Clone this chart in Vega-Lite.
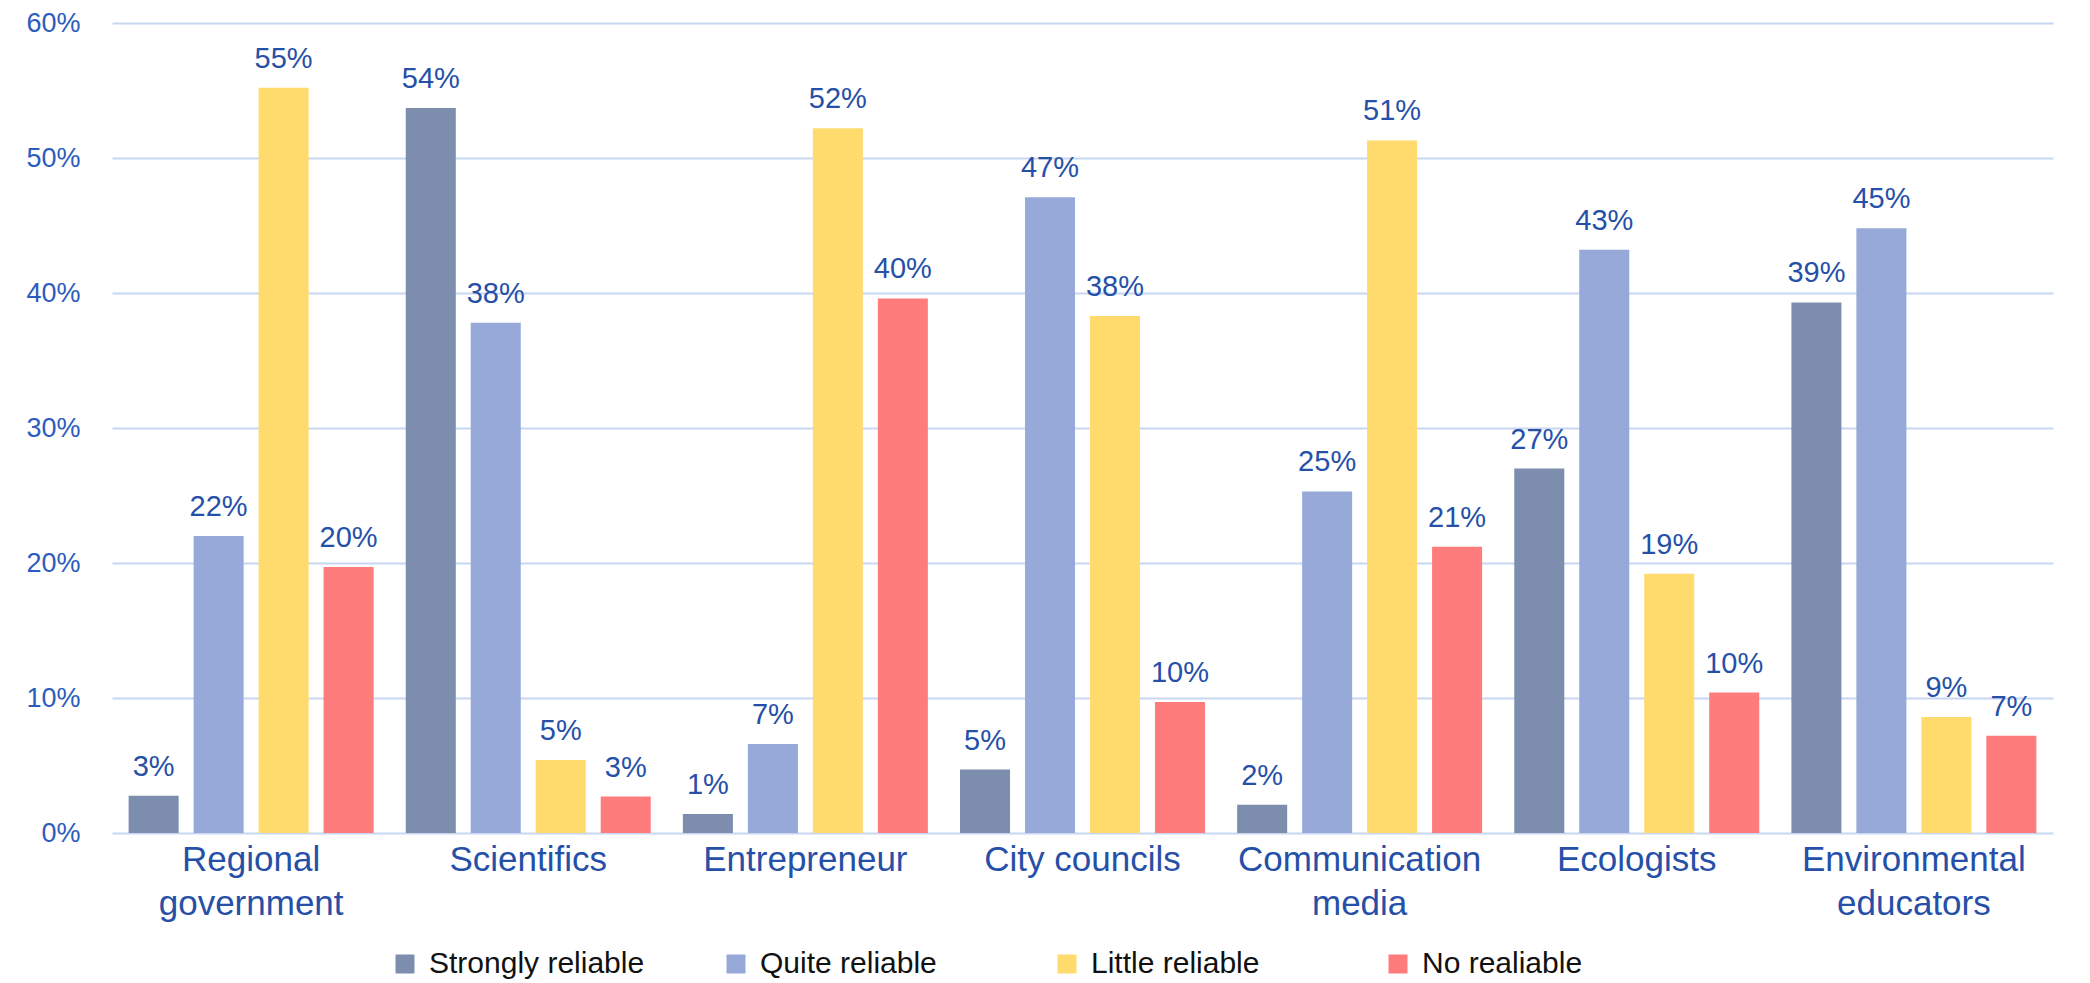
{
  "$schema": "https://vega.github.io/schema/vega-lite/v6.json",
  "width": 1941,
  "height": 810,
  "autosize": "none",
  "padding": {"left": 112, "top": 23, "right": 37, "bottom": 150},
  "background": "white",
  "config": {"view": {"stroke": null}, "font": "Liberation Sans"},
  "data": {
    "values": [
      {"group": "Regional government", "rating": "Strongly reliable", "share": 0.0276},
      {"group": "Regional government", "rating": "Quite reliable", "share": 0.220},
      {"group": "Regional government", "rating": "Little reliable", "share": 0.552},
      {"group": "Regional government", "rating": "No realiable", "share": 0.197},
      {"group": "Scientifics", "rating": "Strongly reliable", "share": 0.537},
      {"group": "Scientifics", "rating": "Quite reliable", "share": 0.378},
      {"group": "Scientifics", "rating": "Little reliable", "share": 0.054},
      {"group": "Scientifics", "rating": "No realiable", "share": 0.027},
      {"group": "Entrepreneur", "rating": "Strongly reliable", "share": 0.014},
      {"group": "Entrepreneur", "rating": "Quite reliable", "share": 0.066},
      {"group": "Entrepreneur", "rating": "Little reliable", "share": 0.522},
      {"group": "Entrepreneur", "rating": "No realiable", "share": 0.396},
      {"group": "City councils", "rating": "Strongly reliable", "share": 0.047},
      {"group": "City councils", "rating": "Quite reliable", "share": 0.471},
      {"group": "City councils", "rating": "Little reliable", "share": 0.383},
      {"group": "City councils", "rating": "No realiable", "share": 0.097},
      {"group": "Communication media", "rating": "Strongly reliable", "share": 0.021},
      {"group": "Communication media", "rating": "Quite reliable", "share": 0.253},
      {"group": "Communication media", "rating": "Little reliable", "share": 0.513},
      {"group": "Communication media", "rating": "No realiable", "share": 0.212},
      {"group": "Ecologists", "rating": "Strongly reliable", "share": 0.270},
      {"group": "Ecologists", "rating": "Quite reliable", "share": 0.432},
      {"group": "Ecologists", "rating": "Little reliable", "share": 0.192},
      {"group": "Ecologists", "rating": "No realiable", "share": 0.104},
      {"group": "Environmental educators", "rating": "Strongly reliable", "share": 0.393},
      {"group": "Environmental educators", "rating": "Quite reliable", "share": 0.448},
      {"group": "Environmental educators", "rating": "Little reliable", "share": 0.086},
      {"group": "Environmental educators", "rating": "No realiable", "share": 0.072}
    ]
  },
  "encoding": {
    "x": {
      "field": "group",
      "type": "nominal",
      "sort": null,
      "scale": {"paddingInner": 0.116, "paddingOuter": 0.06},
      "axis": {
        "title": null,
        "domain": false,
        "ticks": false,
        "labelAngle": 0,
        "labelFont": "Liberation Sans",
        "labelFontSize": 35,
        "labelColor": "#2650a8",
        "labelLineHeight": 44,
        "labelPadding": 9,
        "labelBaseline": "top",
        "labelLimit": 400,
        "labelExpr": "datum.label === 'Regional government' ? ['Regional', 'government'] : datum.label === 'Communication media' ? ['Communication', 'media'] : datum.label === 'Environmental educators' ? ['Environmental', 'educators'] : datum.label"
      }
    },
    "xOffset": {
      "field": "rating",
      "type": "nominal",
      "sort": ["Strongly reliable", "Quite reliable", "Little reliable", "No realiable"],
      "scale": {"paddingInner": 0.23, "paddingOuter": 0}
    },
    "y": {
      "field": "share",
      "type": "quantitative",
      "scale": {"domain": [0, 0.6], "nice": false},
      "axis": {
        "title": null,
        "format": ".0%",
        "values": [0, 0.1, 0.2, 0.3, 0.4, 0.5, 0.6],
        "domain": false,
        "ticks": false,
        "grid": true,
        "gridColor": "#c8d7f1",
        "gridWidth": 2,
        "labelFont": "Liberation Sans",
        "labelFontSize": 27,
        "labelColor": "#2c5cbd",
        "labelPadding": 32
      }
    }
  },
  "layer": [
    {
      "mark": {"type": "bar"},
      "encoding": {
        "color": {
          "field": "rating",
          "type": "nominal",
          "sort": ["Strongly reliable", "Quite reliable", "Little reliable", "No realiable"],
          "scale": {
            "domain": ["Strongly reliable", "Quite reliable", "Little reliable", "No realiable"],
            "range": ["#7d8dad", "#96a9d8", "#ffdb6e", "#ff7c7c"]
          },
          "legend": {
            "title": null,
            "orient": "none",
            "direction": "horizontal",
            "columns": 4,
            "gridAlign": "all",
            "legendX": 278,
            "legendY": 926,
            "symbolType": "square",
            "symbolSize": 361,
            "symbolStrokeWidth": 0,
            "labelFont": "Liberation Sans",
            "labelFontSize": 30,
            "labelColor": "#111111",
            "labelOffset": 9,
            "labelLimit": 300,
            "columnPadding": 76
          }
        }
      }
    },
    {
      "mark": {"type": "text", "baseline": "alphabetic", "dy": -20, "font": "Liberation Sans", "fontSize": 29, "color": "#2650a8"},
      "encoding": {
        "text": {"field": "share", "type": "quantitative", "format": ".0%"}
      }
    }
  ]
}
